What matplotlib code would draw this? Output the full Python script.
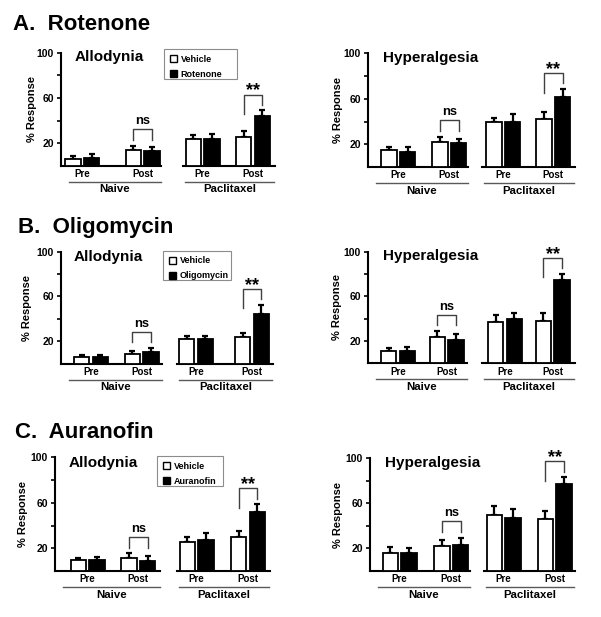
import matplotlib
matplotlib.use("Agg")
import matplotlib.pyplot as plt
import numpy as np
from matplotlib.patches import Patch, Rectangle

plt.rcParams.update({
    "font.family": ["Liberation Sans", "DejaVu Sans"],
    "font.weight": "bold",
    "axes.linewidth": 1.5,
})

# ---------------------------------------------------------------
# data (% response), order: Naive Pre, Naive Post, Paclitaxel Pre, Paclitaxel Post
# ---------------------------------------------------------------
groups = ["Naive", "Paclitaxel"]
timepoints = ["Pre", "Post"]
drugs = ["Rotenone", "Oligomycin", "Auranofin"]
row_titles = ["A.  Rotenone", "B.  Oligomycin", "C.  Auranofin"]
tests = ["Allodynia", "Hyperalgesia"]
sig_labels = ["ns", "**"]   # Post: vehicle vs drug, naive / paclitaxel

rot_allo_veh = [6.5, 14, 24, 26]
rot_allo_veh_err = [2.4, 4, 3.5, 4.5]
rot_allo_drug = [7.5, 13, 24, 44]
rot_allo_drug_err = [3, 3.5, 4.5, 5]
rot_hyp_veh = [15, 22, 40, 42.5]
rot_hyp_veh_err = [2.5, 4.7, 3.5, 6]
rot_hyp_drug = [13.5, 21, 40, 62]
rot_hyp_drug_err = [3.7, 4, 6.5, 6.5]

oli_allo_veh = [6, 8.3, 21.6, 23.7]
oli_allo_veh_err = [2, 3.3, 3, 3.9]
oli_allo_drug = [5.5, 10.4, 21.6, 44]
oli_allo_drug_err = [2.3, 3.5, 3.3, 8.3]
oli_hyp_veh = [11, 23.6, 37.3, 38.2]
oli_hyp_veh_err = [3, 5.4, 6, 6.6]
oli_hyp_drug = [11.3, 21.2, 39.7, 74.3]
oli_hyp_drug_err = [3.6, 5, 5.7, 5.7]

aur_allo_veh = [9.4, 11, 25.5, 29.6]
aur_allo_veh_err = [2, 4.4, 4.7, 5.6]
aur_allo_drug = [9.4, 9.1, 27.3, 52.2]
aur_allo_drug_err = [2.6, 4.4, 5.8, 6.5]
aur_hyp_veh = [15.6, 22.4, 50, 46.4]
aur_hyp_veh_err = [6, 5, 7.4, 6.8]
aur_hyp_drug = [16.4, 23, 47.3, 77.2]
aur_hyp_drug_err = [3.6, 6.5, 8, 6]

data = [
    [(rot_allo_veh, rot_allo_veh_err, rot_allo_drug, rot_allo_drug_err),
     (rot_hyp_veh, rot_hyp_veh_err, rot_hyp_drug, rot_hyp_drug_err)],
    [(oli_allo_veh, oli_allo_veh_err, oli_allo_drug, oli_allo_drug_err),
     (oli_hyp_veh, oli_hyp_veh_err, oli_hyp_drug, oli_hyp_drug_err)],
    [(aur_allo_veh, aur_allo_veh_err, aur_allo_drug, aur_allo_drug_err),
     (aur_hyp_veh, aur_hyp_veh_err, aur_hyp_drug, aur_hyp_drug_err)],
]

# ---------------------------------------------------------------
# layout in pixels (figure is 601 x 617)
# per panel: naive (x0, x1, pre_c, post_c), pacl (x0, x1, pre_c, post_c), y100, y0, ylabel x
# ---------------------------------------------------------------
W, H = 601, 617
layout = [
    [dict(n=(61, 161, 82.3, 142.5), p=(183, 275, 202.5, 253), top=52.7, bot=166, ylx=32, tx=75, ty=57),
     dict(n=(368, 468, 398.2, 449.2), p=(482, 575, 503.2, 553.3), top=53.3, bot=167, ylx=338, tx=383, ty=58)],
    [dict(n=(61, 162, 91, 141.5), p=(177, 273, 196, 252), top=251.7, bot=363.5, ylx=27, tx=74, ty=257),
     dict(n=(368, 467, 398, 446.7), p=(482, 575, 505, 552.5), top=251.7, bot=363.3, ylx=337, tx=383, ty=256)],
    [dict(n=(55, 160, 87.5, 138.3), p=(177, 270, 196.5, 248), top=457.3, bot=571, ylx=23, tx=69, ty=463),
     dict(n=(370, 470, 399.5, 451.2), p=(484, 575, 503.7, 554.7), top=458.3, bot=571, ylx=338, tx=385, ty=463)],
]
title_pos = [(13, 25), (18, 228), (15, 433)]
legend_box = [(164, 49, 237, 79), (163, 250.5, 231, 280), (157, 456, 223, 486)]

fig = plt.figure(figsize=(W / 100, H / 100), dpi=100)


def rect(x0, x1, ytop, ybot):
    return [x0 / W, 1 - ybot / H, (x1 - x0) / W, (ybot - ytop) / H]


def bracket(ax, xa, xb, ya, yb, ytop, label):
    ax.plot([xa, xa, xb, xb], [ya, ytop, ytop, yb], color="0.25", lw=1.0, clip_on=False)
    if label == "ns":
        ax.text((xa + xb) / 2, ytop + 4.4, label, ha="center", va="baseline",
                fontsize=9.3, clip_on=False)
    else:
        ax.text((xa + xb) / 2, ytop - 0.5, label, ha="center", va="baseline",
                fontsize=13, clip_on=False)


def draw_group(geom, top, bot, veh, veh_err, drug, drug_err, group, sig, first, under):
    x0, x1, pre_c, post_c = geom
    ax = fig.add_axes(rect(x0, x1, top, bot))
    s = post_c - pre_c
    ax.set_xlim((x0 - pre_c) / s, 1 + (x1 - post_c) / s)
    ax.set_ylim(0, 100)
    w, off = 15.4 / s, 9.3 / s
    pos = np.arange(len(timepoints))
    ax.bar(pos - off, veh, w, color="white", edgecolor="black", lw=1.3, zorder=3)
    ax.bar(pos + off, drug, w, color="black", edgecolor="black", lw=1.3, zorder=3)
    ax.errorbar(pos - off, veh, yerr=[np.zeros(2), veh_err], fmt="none", ecolor="black",
                elinewidth=1.6, capsize=2.4, capthick=1.6, zorder=2)
    ax.errorbar(pos + off, drug, yerr=[np.zeros(2), drug_err], fmt="none", ecolor="black",
                elinewidth=1.6, capsize=2.4, capthick=1.6, zorder=2)

    # significance bracket on Post
    tv = veh[1] + veh_err[1]
    td = drug[1] + drug_err[1]
    if sig == "ns":
        t = max(tv, td)
        bracket(ax, 1 - off, 1 + off, t + 5, t + 5, t + 14.5, sig)
    else:
        bracket(ax, 1 - off, 1 + off, td - 3, td + 5, td + 14, sig)

    for sp in ["top", "right"]:
        ax.spines[sp].set_visible(False)
    ax.set_xticks(pos)
    ax.set_xticklabels(timepoints, fontsize=7)
    ax.tick_params(axis="x", length=0, pad=2.5)
    if first:
        ax.set_yticks([20, 40, 60, 80, 100])
        ax.set_yticklabels(["20", "", "60", "", "100"], fontsize=7.5)
        ax.tick_params(axis="y", length=3, width=1.2, pad=2)
    else:
        ax.spines["left"].set_visible(False)
        ax.set_yticks([])
    ax.patch.set_alpha(0)

    h = bot - top
    ax.plot(under, [-16 / h, -16 / h], transform=ax.transAxes, color="0.35",
            lw=1.0, clip_on=False)
    ax.text(np.mean(under), -23.5 / h, group, transform=ax.transAxes, ha="center",
            va="center", fontsize=8.2)
    return ax


for r in range(3):
    tx, ty = title_pos[r]
    fig.text(tx / W, 1 - ty / H, row_titles[r], fontsize=16, va="center", ha="left")
    for c in range(2):
        L = layout[r][c]
        veh, veh_err, drug, drug_err = data[r][c]
        ax_n = draw_group(L["n"], L["top"], L["bot"], veh[:2], veh_err[:2], drug[:2],
                          drug_err[:2], groups[0], sig_labels[0], True, [0.08, 1.0])
        ax_p = draw_group(L["p"], L["top"], L["bot"], veh[2:], veh_err[2:], drug[2:],
                          drug_err[2:], groups[1], sig_labels[1], False, [0.02, 0.99])
        fig.text(L["ylx"] / W, 1 - (L["top"] + L["bot"]) / 2 / H, "% Response",
                 rotation=90, fontsize=8, ha="center", va="center")
        fig.text(L["tx"] / W, 1 - L["ty"] / H, tests[c], fontsize=11, ha="left", va="center")
        if c == 0:
            bx0, by0, bx1, by1 = legend_box[r]
            # frame drawn beneath the (transparent) axes
            fig.patches.append(Rectangle((bx0 / W, 1 - by1 / H), (bx1 - bx0) / W,
                                         (by1 - by0) / H, transform=fig.transFigure,
                                         facecolor="white", edgecolor="0.55", lw=0.8,
                                         zorder=-1))
            handles = [Patch(facecolor="white", edgecolor="black", lw=1.0),
                       Patch(facecolor="black", edgecolor="black", lw=1.0)]
            leg = ax_n.legend(handles, ["Vehicle", drugs[r]], loc="upper left",
                              bbox_to_anchor=(bx0 / W, 1 - by0 / H),
                              bbox_transform=fig.transFigure, borderaxespad=0,
                              fontsize=6.5, handlelength=0.8, handleheight=0.8,
                              handletextpad=0.4, labelspacing=0.65, borderpad=0.65,
                              frameon=False)

fig.savefig("out.png", dpi=100, facecolor="white")
